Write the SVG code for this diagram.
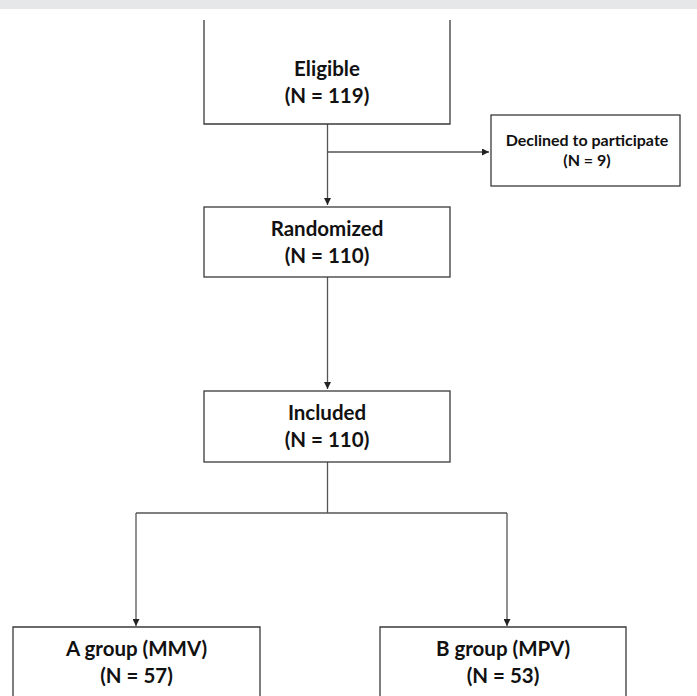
<svg xmlns="http://www.w3.org/2000/svg" width="697" height="696" viewBox="0 0 697 696">
<style>
.box{fill:#fff;stroke:#3a3a3a;stroke-width:1.3}
.t{font-family:Lato,"Open Sans","Liberation Sans",sans-serif;font-weight:bold;font-size:20.5px;fill:#111;text-anchor:middle}
.s{font-size:16px}
.c{fill:none;stroke:#555;stroke-width:1.3}
</style>
<defs>
<marker id="ah" viewBox="0 0 10 10" refX="10" refY="5" markerWidth="7" markerHeight="7" markerUnits="userSpaceOnUse" orient="auto">
<path d="M0,0 L10,5 L0,10 z" fill="#222"/>
</marker>
</defs>
<rect x="0" y="0" width="697" height="9" fill="#e6e7e8"/>
<g id="connectors">
<path class="c" d="M327.5,124 V205" marker-end="url(#ah)"/>
<path class="c" d="M327.5,152 H489" marker-end="url(#ah)"/>
<path class="c" d="M327.5,277 V389" marker-end="url(#ah)"/>
<path class="c" d="M327.5,462 V513 M136,513 H507"/>
<path class="c" d="M136,513 V626" marker-end="url(#ah)"/>
<path class="c" d="M507,513 V626" marker-end="url(#ah)"/>
</g>
<g id="eligible">
<path class="box" d="M204,20 V124 H450 V20"/>
<text class="t" x="327" y="76">Eligible</text>
<text class="t" x="327" y="103">(N = 119)</text>
</g>
<g id="declined">
<rect class="box" x="491" y="115" width="189" height="71"/>
<text class="t s" x="587" y="146">Declined to participate</text>
<text class="t s" x="587" y="166">(N = 9)</text>
</g>
<g id="randomized">
<rect class="box" x="204" y="207" width="246" height="70"/>
<text class="t" x="327" y="236">Randomized</text>
<text class="t" x="327" y="263">(N = 110)</text>
</g>
<g id="included">
<rect class="box" x="204" y="391" width="246" height="71"/>
<text class="t" x="327" y="420">Included</text>
<text class="t" x="327" y="447">(N = 110)</text>
</g>
<g id="groupA">
<path class="box" d="M13,700 V627 H260 V700"/>
<text class="t" x="136.5" y="656">A group (MMV)</text>
<text class="t" x="136.5" y="683">(N = 57)</text>
</g>
<g id="groupB">
<path class="box" d="M380,700 V627 H626 V700"/>
<text class="t" x="503" y="656">B group (MPV)</text>
<text class="t" x="503" y="683">(N = 53)</text>
</g>
</svg>
